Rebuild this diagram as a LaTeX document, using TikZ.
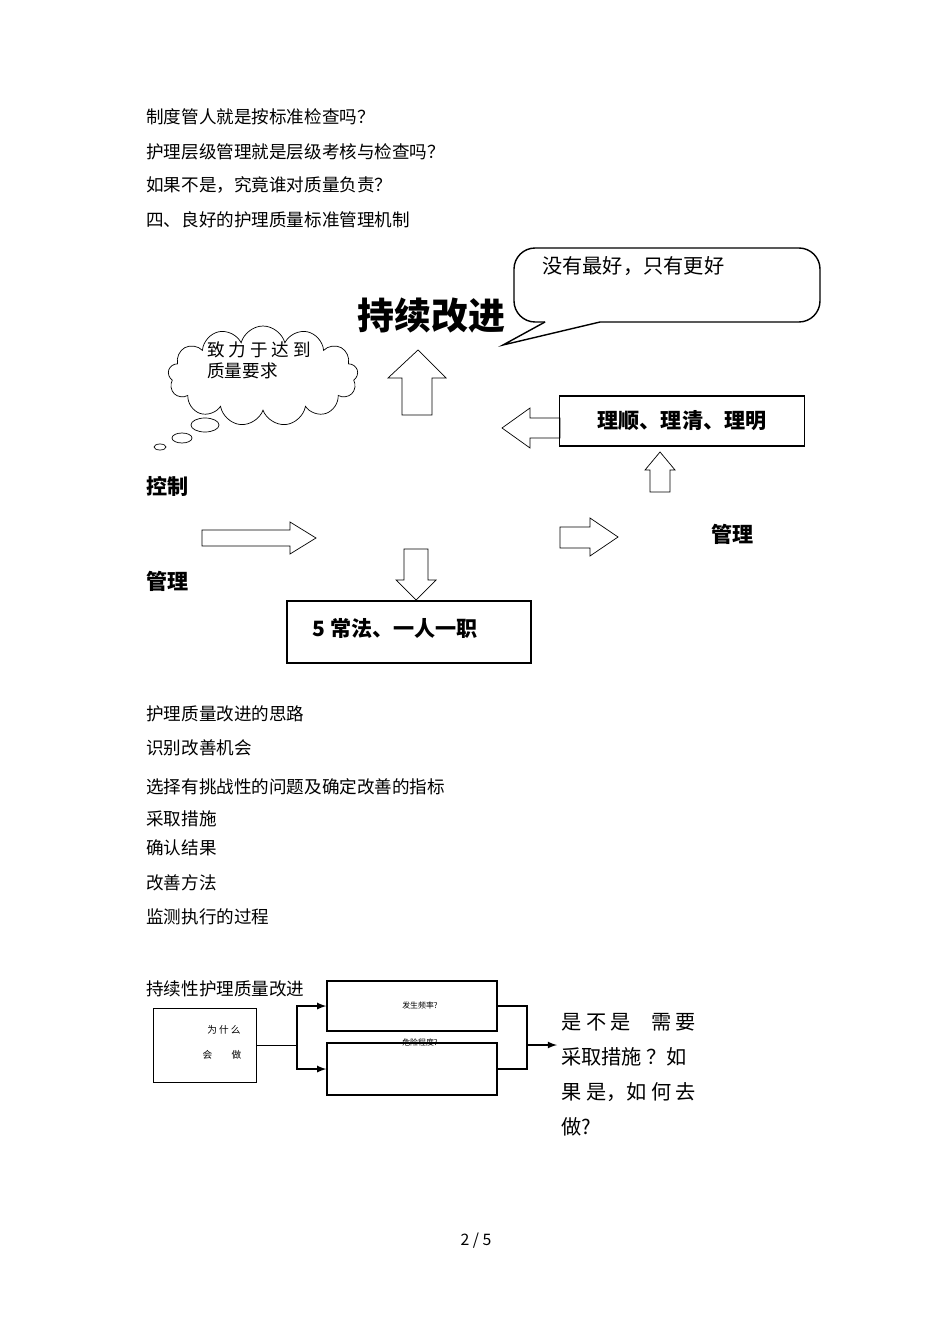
\documentclass[tikz,border=0pt]{standalone}
\usepackage{fontspec}
\setmainfont{Noto Sans CJK SC}
\usetikzlibrary{shapes.symbols,shapes.callouts}

\tikzset{
  txt/.style={anchor=west, inner sep=0pt, font=\fontsize{10}{12}\selectfont},
  bold/.style={anchor=west, inner sep=0pt, font=\fontsize{12}{14}\selectfont\bfseries},
  box/.style={draw, thick, inner sep=0pt},
  hollow/.style={draw, fill=white, line join=miter},
  flow/.style={draw, thick, -latex}
}

\begin{document}
\begin{tikzpicture}[x=0.02cm, y=-0.02cm]
    \useasboundingbox (0,0) rectangle (950,1344);

    % questions at the top
    \node[txt] (q1) at (146,117) {制度管人就是按标准检查吗？};
    \node[txt] (q2) at (146,152) {护理层级管理就是层级考核与检查吗？};
    \node[txt] (q3) at (146,185) {如果不是，究竟谁对质量负责？};
    \node[txt] (q4) at (146,220) {四、良好的护理质量标准管理机制};

    % speech bubble
    \draw[thick, rounded corners=12] (545,322) -- (514,322) -- (514,248) -- (820,248) -- (820,322) -- (600,322);
    \draw[thick] (545,322) -- (503,345) -- (600,322);
    \node[txt, font=\fontsize{11.5}{14}\selectfont] (say) at (542,266) {没有最好，只有更好};
    \node[bold, font=\fontsize{21}{24}\selectfont\bfseries] (kaizen) at (357,316) {持续改进};

    % thought cloud
    \node[cloud, draw, cloud puffs=13, aspect=1.9, minimum width=3.8cm, minimum height=2cm] (cloud) at (263,376) {};
    \draw (205,425) ellipse (14 and 7);
    \draw (182,438) ellipse (10 and 5);
    \draw (160,447) ellipse (6 and 3);
    \node[txt, align=left] (goal) at (207,360) {致 力 于 达 到\\质量要求};

    % hollow arrows
    \draw[hollow] (402,415) -- (402,378) -- (388,378) -- (418,350) -- (446,378) -- (432,378) -- (432,415) -- cycle;
    \draw[hollow] (560,418) -- (530,418) -- (530,408) -- (502,428) -- (530,448) -- (530,438) -- (560,438) -- cycle;
    \draw[hollow] (650,492) -- (650,470) -- (645,470) -- (660,452) -- (675,470) -- (670,470) -- (670,492) -- cycle;
    \draw[hollow] (202,530) -- (290,530) -- (290,522) -- (316,538) -- (290,554) -- (290,546) -- (202,546) -- cycle;
    \draw[hollow] (560,527) -- (590,527) -- (590,518) -- (618,537) -- (590,556) -- (590,548) -- (560,548) -- cycle;
    \draw[hollow] (404,549) -- (428,549) -- (428,580) -- (436,580) -- (416,600) -- (396,580) -- (404,580) -- cycle;

    \node[box, minimum width=4.9cm, minimum height=1cm, font=\fontsize{12}{14}\selectfont\bfseries] (clear) at (682,421) {理顺、理清、理明};
    \node[box, minimum width=4.88cm, minimum height=1.24cm] (five) at (409,632) {};
    \node[bold] (fivet) at (312,628) {5 常法、一人一职};

    \node[bold] (ctrl) at (146,486) {控制};
    \node[bold] (mgr1) at (146,581) {管理};
    \node[bold] (mgr2) at (711,534) {管理};

    % list
    \node[txt] (l1) at (146,714) {护理质量改进的思路};
    \node[txt] (l2) at (146,748) {识别改善机会};
    \node[txt] (l3) at (146,787) {选择有挑战性的问题及确定改善的指标};
    \node[txt] (l4) at (146,819) {采取措施};
    \node[txt] (l5) at (146,848) {确认结果};
    \node[txt] (l6) at (146,883) {改善方法};
    \node[txt] (l7) at (146,917) {监测执行的过程};
    \node[txt] (l8) at (146,989) {持续性护理质量改进};

    % small flow chart
    \node[draw, minimum width=2.06cm, minimum height=1.48cm, inner sep=0pt] (why) at (204.5,1045) {};
    \node[inner sep=0pt, font=\fontsize{5.5}{7}\selectfont] at (224,1030) {为 什 么};
    \node[inner sep=0pt, font=\fontsize{5.5}{7}\selectfont] at (222,1055) {会\hspace{2em}做};
    \node[box, minimum width=3.4cm, minimum height=1cm] (freq) at (412,1006) {};
    \node[box, minimum width=3.4cm, minimum height=1.04cm] (risk) at (412,1069) {};
    \node[inner sep=0pt, font=\fontsize{4.5}{6}\selectfont] at (420,1005) {发生频率?};
    \node[inner sep=0pt, font=\fontsize{4.5}{6}\selectfont] at (420,1042) {危险程度?};
    \coordinate (split) at (297,1045);
    \coordinate (join) at (527,1045);
    \coordinate (out) at (557,1045);
    \draw (why.east) -- (split);
    \draw[flow] (split) |- (freq.west);
    \draw[flow] (split) |- (risk.west);
    \draw[thick] (freq.east) -| (join);
    \draw[thick] (risk.east) -| (join);
    \draw[flow] (join) -- (out);

    \node[txt, font=\fontsize{11.5}{20}\selectfont, align=left] (ask) at (561,1075) {是 不 是\quad 需 要\\采取措施 ？如\\果 是，如 何 去\\做?};

    \node[inner sep=0pt, font=\fontsize{9}{11}\selectfont] (page) at (476,1241) {2 / 5};
\end{tikzpicture}
\end{document}
